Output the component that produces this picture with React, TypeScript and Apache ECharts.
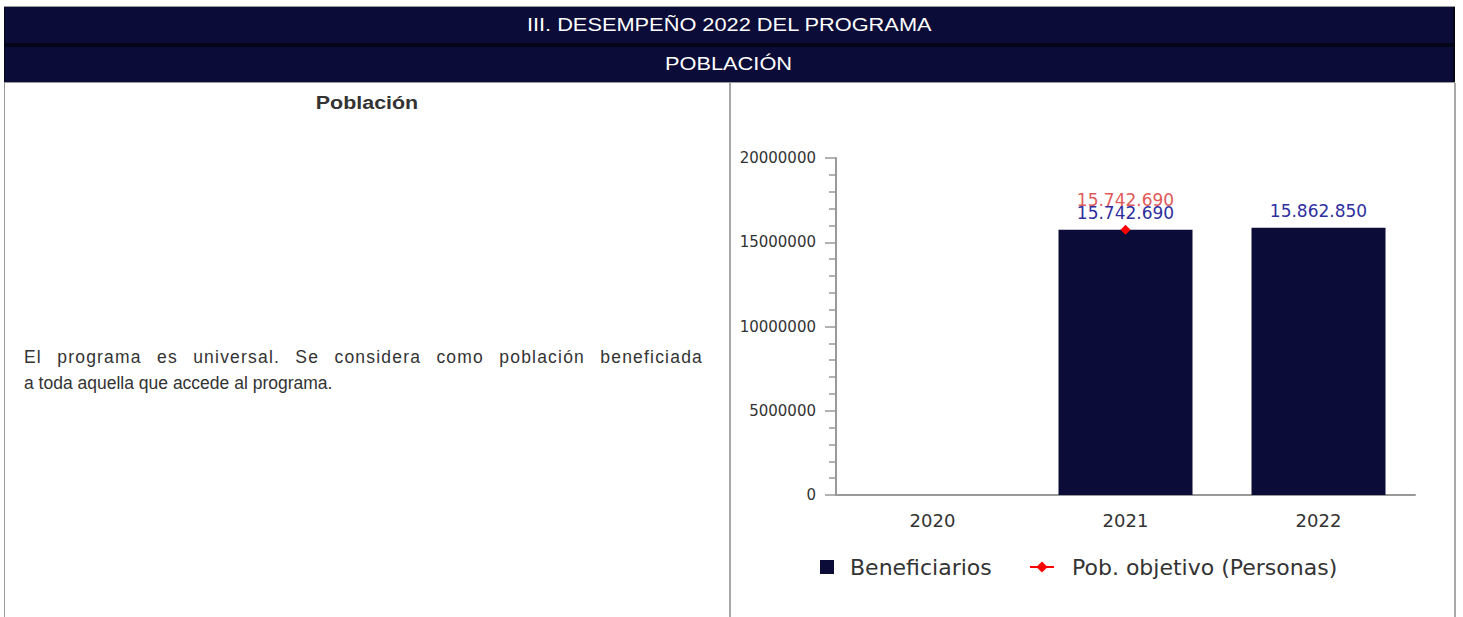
import React, { useEffect, useRef } from "react";
import * as echarts from "echarts";

const categories = ["2020", "2021", "2022"];
const beneficiarios: (number | null)[] = [null, 15742690, 15862850];
const poblacionObjetivo: (number | null)[] = [null, 15742690, null];
const yTicks = { min: 0, max: 20000000, interval: 5000000 };
const seriesNames = ["Beneficiarios", "Pob. objetivo (Personas)"];

const title1 = "III. DESEMPEÑO 2022 DEL PROGRAMA";
const title2 = "POBLACIÓN";
const leftTitle = "Población";
const textLine1 = "El programa es universal. Se considera como población beneficiada";
const textLine2 = "a toda aquella que accede al programa.";

const NAVY = "#0b0c38";

function fmt(v: number): string {
  return String(Math.round(v)).replace(/\B(?=(\d{3})+(?!\d))/g, ".");
}

function Chart() {
  const ref = useRef<HTMLDivElement>(null);
  useEffect(() => {
    if (!ref.current) return;
    const chart = echarts.init(ref.current, undefined, { renderer: "svg" });
    const font = "DejaVu Sans";
    chart.setOption({
      animation: false,
      textStyle: { fontFamily: font },
      grid: { left: 105, top: 74, width: 579, height: 337 },
      legend: [
        {
          data: [{ name: seriesNames[0], icon: "rect" }],
          left: 84,
          top: 466,
          itemWidth: 14,
          itemHeight: 14,
          textStyle: { fontFamily: font, fontSize: 22, color: "#333", lineHeight: 24, padding: [0, 0, 0, 11] },
          selectedMode: false,
        },
        {
          data: [{ name: seriesNames[1] }],
          left: 293,
          top: 466,
          itemWidth: 24,
          itemHeight: 14,
          textStyle: { fontFamily: font, fontSize: 22, color: "#333", lineHeight: 24, padding: [0, 0, 0, 13] },
          selectedMode: false,
        },
      ],
      xAxis: {
        type: "category",
        data: categories,
        axisTick: { show: false },
        axisLine: { lineStyle: { color: "#999", width: 2 } },
        axisLabel: { fontFamily: font, fontSize: 18, color: "#333", margin: 16 },
      },
      yAxis: {
        type: "value",
        min: yTicks.min,
        max: yTicks.max,
        interval: yTicks.interval,
        axisLine: { show: true, lineStyle: { color: "#999", width: 2 } },
        axisTick: { show: true, length: 11, lineStyle: { color: "#999", width: 1.5 } },
        minorTick: { show: true, splitNumber: 5, length: 7, lineStyle: { color: "#999", width: 1.5 } },
        splitLine: { show: false },
        minorSplitLine: { show: false },
        axisLabel: { fontFamily: font, fontSize: 15, color: "#333", margin: 20, formatter: (v: number) => String(v) },
      },
      series: [
        {
          name: seriesNames[0],
          type: "bar",
          data: beneficiarios,
          barWidth: 134,
          itemStyle: { color: NAVY },
          label: {
            show: true,
            position: "top",
            distance: 8,
            fontFamily: font,
            fontSize: 17,
            color: "#2f2f9f",
            formatter: (p: any) => fmt(p.value),
          },
        },
        {
          name: seriesNames[1],
          type: "line",
          data: poblacionObjetivo,
          symbol: "diamond",
          symbolSize: 10,
          itemStyle: { color: "#ff0000" },
          lineStyle: { color: "#ff0000", width: 2 },
          label: {
            show: true,
            position: "top",
            distance: 16,
            fontFamily: font,
            fontSize: 17,
            color: "#e05a5a",
            formatter: (p: any) => fmt(p.value),
          },
        },
      ],
    });
    return () => chart.dispose();
  }, []);
  return <div ref={ref} style={{ position: "absolute", left: 731, top: 84, width: 722, height: 533 }} />;
}

export default function App() {
  const sans = "'Liberation Sans', Arial, sans-serif";
  return (
    <div
      style={{
        position: "absolute",
        left: 0,
        top: 0,
        width: 1463,
        height: 617,
        overflow: "hidden",
        background: "#fff",
        fontFamily: sans,
      }}
    >
      {/* header block */}
      <div style={{ position: "absolute", left: 4, top: 6, width: 1451, height: 77, background: "#05051a", borderTop: "1px solid #999", borderBottom: "1px solid #999", boxSizing: "border-box" }} />
      <div style={{ position: "absolute", left: 5, top: 7, width: 1448, height: 36, background: NAVY }} />
      <div style={{ position: "absolute", left: 5, top: 47, width: 1448, height: 35, background: NAVY }} />
      <div style={{ position: "absolute", left: 5, top: 7, width: 1448, height: 37, lineHeight: "37px", textAlign: "center", color: "#fff", fontSize: 18 }}>
        <span style={{ display: "inline-block", transform: "scaleX(1.21)" }}>{title1}</span>
      </div>
      <div style={{ position: "absolute", left: 5, top: 47, width: 1448, height: 35, lineHeight: "35px", textAlign: "center", color: "#fff", fontSize: 18 }}>
        <span style={{ display: "inline-block", transform: "scaleX(1.21)" }}>{title2}</span>
      </div>
      {/* body borders */}
      <div style={{ position: "absolute", left: 4, top: 83, width: 1, height: 534, background: "#999" }} />
      <div style={{ position: "absolute", left: 729, top: 83, width: 2, height: 534, background: "#a8a8a8" }} />
      <div style={{ position: "absolute", left: 1454, top: 83, width: 2, height: 534, background: "#a8a8a8" }} />
      {/* left cell */}
      <div style={{ position: "absolute", left: 5, top: 92, width: 724, height: 22, lineHeight: "22px", textAlign: "center", color: "#333", fontSize: 18, fontWeight: "bold" }}>
        <span style={{ display: "inline-block", transform: "scaleX(1.19)" }}>{leftTitle}</span>
      </div>
      <div style={{ position: "absolute", left: 24, top: 344, width: 679, color: "#333", fontSize: 17.5, lineHeight: "26px" }}>
        <div style={{ textAlign: "justify", textAlignLast: "justify", whiteSpace: "nowrap" as any, letterSpacing: "1.2px" }}>{textLine1}</div>
        <div>{textLine2}</div>
      </div>
      <Chart />
    </div>
  );
}
